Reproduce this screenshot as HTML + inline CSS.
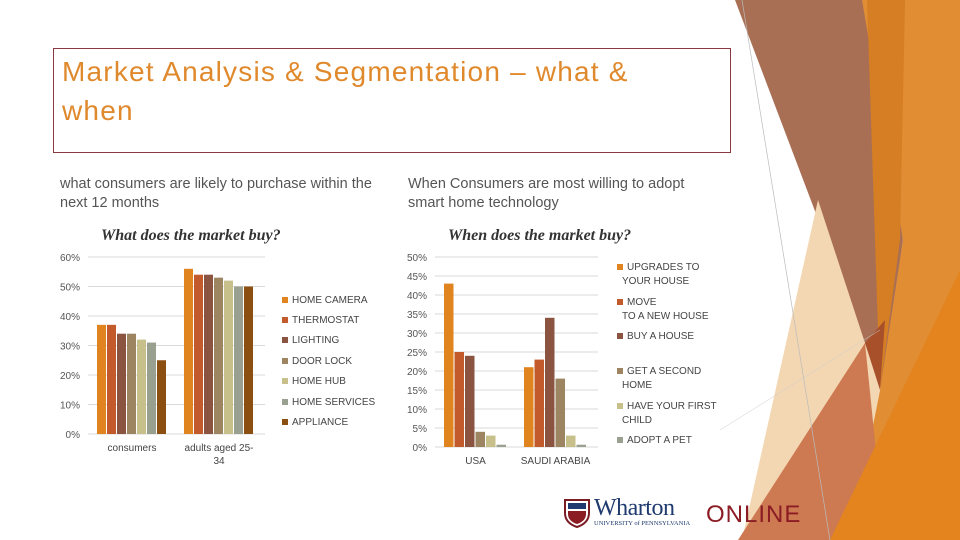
<!DOCTYPE html>
<html><head><meta charset="utf-8">
<style>
body{margin:0;width:960px;height:540px;overflow:hidden;background:#fff;font-family:"Liberation Sans",sans-serif;}
#root{position:relative;width:960px;height:540px;}
.abs{position:absolute;}
</style></head>
<body>
<div id="root">
<svg class="abs" style="left:0;top:0" width="960" height="540">
  <polygon points="735,0 872,0 903,240 882,390 865,343" fill="#a96f55"/>
  <polygon points="862,0 960,0 960,540 850,540 880,390 903,240" fill="#e08d33"/>
  <polygon points="867,0 905,0 900,240 880,390" fill="#d57e24"/>
  <polygon points="818,200 865,343 880,390 850,540 742,540" fill="#f3d7b3"/>
  <polygon points="738,540 865,343 885,540" fill="#cd7a52"/>
  <polygon points="865,343 885,320 880,390" fill="#a8502a"/>
  <polygon points="830,540 960,270 960,540" fill="#e3841f"/>
  <line x1="742" y1="0" x2="830" y2="540" stroke="#bbb" stroke-width="0.7"/>
  <line x1="720" y1="430" x2="880" y2="330" stroke="#ccc" stroke-width="0.5"/>
</svg>
<div class="abs" style="left:53px;top:48px;width:676px;height:103px;border:1px solid #8b3a44;"></div>
<div class="abs" style="left:62px;top:52px;font-size:28px;line-height:39px;letter-spacing:1.2px;color:#e0892c;width:640px">Market Analysis &amp; Segmentation – what &amp;<br>when</div>
<div class="abs" style="left:60px;top:175px;font-size:14.5px;line-height:19px;color:#555;width:325px">what consumers are likely to purchase within the next 12 months</div>
<div class="abs" style="left:408px;top:175px;font-size:14.5px;line-height:19px;color:#555;width:315px">When Consumers are most willing to adopt smart home technology</div>
<svg class="abs" id="c1" style="left:0;top:0" width="960" height="540"></svg>
<div class="abs" style="left:563px;top:498px;width:28px;height:30px;">
<svg width="28" height="30"><path d="M2,2 H26 V15 Q26,25 14,29 Q2,25 2,15 Z" fill="#fff" stroke="#7a1c24" stroke-width="2"/><rect x="5" y="5" width="18" height="6" fill="#1f3a6e"/><path d="M5,13 H23 V16 Q23,23 14,26 Q5,23 5,16Z" fill="#8b1c24"/></svg></div>
<div class="abs" style="left:594px;top:495px;font-family:'Liberation Serif',serif;font-size:24px;color:#1f3a6e;letter-spacing:-0.5px">Wharton</div>
<div class="abs" style="left:594px;top:520px;font-family:'Liberation Serif',serif;font-size:6.5px;color:#1f3a6e;">UNIVERSITY of PENNSYLVANIA</div>
<div class="abs" style="left:706px;top:501px;font-size:24px;color:#8b1c24;letter-spacing:1px">ONLINE</div>
</div>
<script>
const colors1=["#e0841f","#c25a2c","#8b5440","#9c8560","#c8c08a","#9aa090","#8b4f12"];
const cats1=["consumers","adults aged 25-34"];
const series1=["HOME CAMERA","THERMOSTAT","LIGHTING","DOOR LOCK","HOME HUB","HOME SERVICES","APPLIANCE"];
const vals1=[[37,56],[37,54],[34,54],[34,53],[32,52],[31,50],[25,50]];
const ticks1=[0,10,20,30,40,50,60];
const cats2=["USA","SAUDI ARABIA"];
const series2=["UPGRADES TO\nYOUR HOUSE","MOVE\nTO A NEW HOUSE","BUY A HOUSE","GET A SECOND\nHOME","HAVE YOUR FIRST\nCHILD","ADOPT A PET"];
const vals2=[[43,21],[25,23],[24,34],[4,18],[3,3],[0.6,0.6]];
const ticks2=[0,5,10,15,20,25,30,35,40,45,50];
const colors2=["#e0841f","#c25a2c","#8b5440","#9c8560","#c8c08a","#9aa090"];
const svg=document.getElementById('c1');const NS="http://www.w3.org/2000/svg";
function mk(t,a,p){const e=document.createElementNS(NS,t);for(const k in a)e.setAttribute(k,a[k]);(p||svg).appendChild(e);return e;}
function chart(o){
  const y=v=>o.y0-(v/o.max)*(o.y0-o.y1);
  const g=mk('g',{});
  
  
  const t=mk('text',{x:o.titleX,y:240,'font-family':'Liberation Serif,serif','font-style':'italic','font-weight':'bold','font-size':16,fill:'#333'},g);t.textContent=o.title;
  
  
  o.ticks.forEach(v=>{
    mk('line',{x1:o.x0,x2:o.x2,y1:y(v),y2:y(v),stroke:'#d9d9d9','stroke-width':1},g);
    const l=mk('text',{x:o.lx,y:y(v)+4,'font-size':10,fill:'#555','text-anchor':'end'},g);l.textContent=v+'%';
    
    
  });
  o.cats.forEach((c,ci)=>{
    o.vals.forEach((s,si)=>{
      const bx=o.gx[ci]+si*o.bw;
      const r=mk('rect',{x:bx,y:y(s[ci]),width:o.bw-1,height:o.y0-y(s[ci]),fill:o.colors[si]},g);
      
      
    });
    const lines=o.catLabels[ci];
    lines.forEach((ln,li)=>{
      const l=mk('text',{x:o.gx[ci]+o.vals.length*o.bw/2,y:o.y0+17+li*13,'font-size':10,fill:'#444','text-anchor':'middle'},g);l.textContent=ln;
      
      
    });
  });
  o.series.forEach((s,si)=>{
    const ly=o.legY[si];
    const r=mk('rect',{x:o.legX,y:ly-6,width:6,height:6,fill:o.colors[si]},g);
    
    
    s.split('\n').forEach((ln,li)=>{
      const l=mk('text',{x:o.legX+(li?5:10),y:ly+li*14,'font-size':10,fill:'#444'},g);l.textContent=ln;
      
      
    });
  });
}
chart({name:'purchase-chart',title:'What does the market buy?',titleX:101,y0:434,y1:257,max:60,ticks:ticks1,x0:88,x2:265,lx:80,
  cats:cats1,catLabels:[["consumers"],["adults aged 25-","34"]],vals:vals1,series:series1,colors:colors1,gx:[97,184],bw:10,
  legX:282,legY:[303,323,343,364,384,405,425]});
chart({name:'timing-chart',title:'When does the market buy?',titleX:448,y0:447,y1:257,max:50,ticks:ticks2,x0:435,x2:598,lx:427,
  cats:cats2,catLabels:[["USA"],["SAUDI ARABIA"]],vals:vals2,series:series2,colors:colors2,gx:[444,524],bw:10.5,
  legX:617,legY:[270,305,339,374,409,443]});
</script>
</body></html>
